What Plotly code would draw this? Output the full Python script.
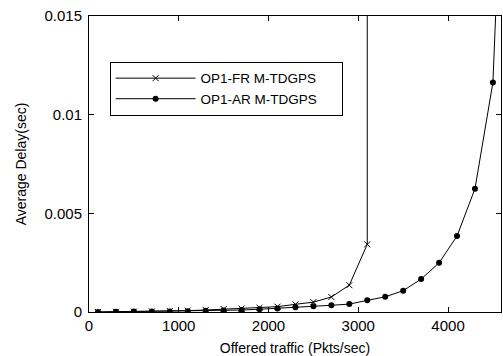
import plotly.graph_objects as go

# Offered traffic (Pkts/sec)
fr_x = [100, 300, 500, 700, 900, 1100, 1300, 1500, 1700, 1900, 2100, 2300,
        2500, 2700, 2900, 3100, 3100]
fr_y = [0.0, 0.00001, 0.00002, 0.00003, 0.00005, 0.00007, 0.0001, 0.00015,
        0.00017, 0.00022, 0.00027, 0.00039, 0.0005, 0.00076, 0.00136, 0.00343,
        0.05]

ar_x = [100, 300, 500, 700, 900, 1100, 1300, 1500, 1700, 1900, 2100, 2300,
        2500, 2700, 2900, 3100, 3300, 3500, 3700, 3900, 4100, 4300, 4500, 4700]
ar_y = [0.0, 0.00001, 0.00002, 0.00002, 0.00003, 0.00004, 0.00006, 0.00008,
        0.0001, 0.00014, 0.00018, 0.00024, 0.00029, 0.00034, 0.0004, 0.00059,
        0.00077, 0.00108, 0.00167, 0.00249, 0.00385, 0.00625, 0.01163, 0.034]

series_names = ["OP1-FR M-TDGPS", "OP1-AR M-TDGPS"]

y_ticks = [0, 0.005, 0.01, 0.015]
y_tick_labels = ["0", "0.005", "0.01", "0.015"]
x_ticks = [0, 1000, 2000, 3000, 4000]
x_tick_labels = ["0", "1000", "2000", "3000", "4000"]

FONT = "Liberation Sans, Arial, sans-serif"
PAD = "\u00a0" * 5  # widen the legend box on the right

fig = go.Figure()
fig.add_trace(go.Scatter(
    x=fr_x, y=fr_y, name=series_names[0] + PAD, mode="lines+markers",
    line=dict(color="black", width=1),
    marker=dict(symbol="x-thin-open", size=6, color="black",
                line=dict(color="black", width=1)),
))
fig.add_trace(go.Scatter(
    x=ar_x, y=ar_y, name=series_names[1] + PAD, mode="lines+markers",
    line=dict(color="black", width=1),
    marker=dict(symbol="circle", size=6, color="black"),
))

axis_common = dict(
    showline=True, linecolor="black", linewidth=1, mirror="ticks",
    ticks="inside", ticklen=5, tickcolor="black", tickwidth=1,
    showgrid=False, zeroline=False,
    tickfont=dict(family=FONT, size=15, color="black"),
)

fig.update_layout(
    width=503, height=356,
    margin=dict(l=89, r=2, t=16, b=44),
    paper_bgcolor="white", plot_bgcolor="white",
    font=dict(family=FONT, color="black"),
    showlegend=True,
    legend=dict(
        x=0.05, y=0.845, xanchor="left", yanchor="top",
        bgcolor="white", bordercolor="black", borderwidth=1,
        font=dict(family=FONT, size=13.5, color="black"),
        itemwidth=80,
    ),
    xaxis=dict(
        range=[0, 4590], tickvals=x_ticks, ticktext=x_tick_labels,
        title=dict(text="Offered traffic (Pkts/sec)", standoff=10,
                   font=dict(family=FONT, size=14, color="black")),
        automargin=False,
        **axis_common,
    ),
    yaxis=dict(
        range=[0, 0.015], tickvals=y_ticks, ticktext=y_tick_labels,
        title=dict(text="Average Delay(sec)", standoff=14,
                   font=dict(family=FONT, size=14, color="black")),
        automargin=False,
        ticklabelstandoff=3,
        **axis_common,
    ),
)

fig.write_html("out.html",
               config={"displayModeBar": False},
               post_script="document.body.style.margin='0px';")
